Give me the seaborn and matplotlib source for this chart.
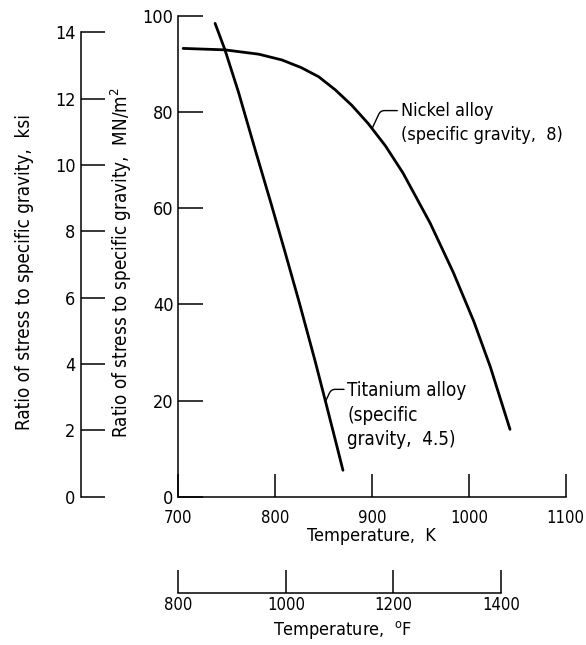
import matplotlib
matplotlib.use("Agg")
import matplotlib.pyplot as plt
from matplotlib import font_manager
import seaborn as sns
import pandas as pd

# ---- data ----
nickel_temp_K = [705, 748, 783, 807, 827, 845, 862, 879, 896, 914, 932, 960, 984, 1005, 1022, 1042.5]
nickel_ratio = [93.2, 92.9, 92.0, 90.8, 89.2, 87.3, 84.6, 81.4, 77.6, 72.9, 67.3, 56.9, 46.6, 36.5, 27.1, 14.0]

titanium_temp_K = [738, 748, 762, 779, 796, 810, 825, 841, 852, 862, 870]
titanium_ratio = [98.4, 93.0, 84.2, 72.4, 60.8, 51.0, 40.3, 28.4, 19.8, 11.9, 5.5]

k_ticks = [700, 800, 900, 1000, 1100]
mn_ticks = [0, 20, 40, 60, 80, 100]
ksi_ticks = [0, 2, 4, 6, 8, 10, 12, 14]
f_ticks = [800, 1000, 1200, 1400]

MN_PER_KSI = 6.894757


def k_to_f(k):
    return (k - 273.15) * 9.0 / 5.0 + 32.0


sns.set_theme(style="ticks")
names = {f.name for f in font_manager.fontManager.ttflist}
if "Liberation Sans Narrow" in names:
    plt.rcParams["font.family"] = ["Liberation Sans Narrow", "DejaVu Sans"]
    stretch = "normal"
else:
    plt.rcParams["font.family"] = ["DejaVu Sans"]
    stretch = "condensed"
plt.rcParams["font.stretch"] = stretch
for key in ["text.color", "axes.labelcolor", "axes.edgecolor", "xtick.color", "ytick.color"]:
    plt.rcParams[key] = "black"
plt.rcParams["axes.linewidth"] = 1.1
plt.rcParams["mathtext.fontset"] = "custom"
plt.rcParams["mathtext.rm"] = plt.rcParams["font.family"][0]

fig = plt.figure(figsize=(5.86, 6.45), dpi=100)
fig.patch.set_facecolor("white")
ax = fig.add_axes([178.3 / 586, (645 - 496.7) / 645, 387.4 / 586, 481.0 / 645])
ax.set_facecolor("white")

df_ni = pd.DataFrame({"T": nickel_temp_K, "R": nickel_ratio})
df_ti = pd.DataFrame({"T": titanium_temp_K, "R": titanium_ratio})
sns.lineplot(data=df_ni, x="T", y="R", ax=ax, color="black", lw=2.0, estimator=None, sort=False)
sns.lineplot(data=df_ti, x="T", y="R", ax=ax, color="black", lw=2.0, estimator=None, sort=False)

ax.set_xlim(700, 1100)
ax.set_ylim(0, 100)
ax.set_xticks(k_ticks)
ax.set_yticks(mn_ticks)
ax.set_xticklabels([str(t) for t in k_ticks])
ax.set_yticklabels([str(t) for t in mn_ticks])
for s in ["top", "right"]:
    ax.spines[s].set_visible(False)
ax.tick_params(axis="y", direction="in", length=18, width=1.1, pad=3.5, labelsize=13, colors="black")
ax.tick_params(axis="x", direction="in", length=16.5, width=1.1, pad=9, labelsize=12, colors="black")

ax.set_xlabel("Temperature,  K", fontsize=13)
ax.xaxis.set_label_coords(0.499, -0.062)
ax.xaxis.label.set_verticalalignment("top")
ax.set_ylabel("Ratio of stress to specific gravity,  MN/m$^2$", fontsize=13.5)
ax.yaxis.set_label_coords(-0.114, 0.487)

# ---- secondary ksi axis ----
ax_ksi = ax.twinx()
ax_ksi.set_ylim(0, 100 / MN_PER_KSI)
ax_ksi.yaxis.tick_left()
ax_ksi.yaxis.set_label_position("left")
for s in ["top", "right", "bottom"]:
    ax_ksi.spines[s].set_visible(False)
ax_ksi.spines["left"].set_visible(True)
ax_ksi.spines["left"].set_position(("outward", 70))
ax_ksi.spines["left"].set_bounds(0, 14)
ax_ksi.set_yticks(ksi_ticks)
ax_ksi.set_yticklabels([str(t) for t in ksi_ticks])
ax_ksi.tick_params(axis="y", direction="in", length=17, width=1.1, pad=4, labelsize=13, colors="black")
ax_ksi.set_ylabel("Ratio of stress to specific gravity,  ksi", fontsize=13.5)
ax_ksi.yaxis.set_label_coords(-0.3725, 0.467)

# ---- secondary Fahrenheit axis ----
ax_f = ax.twiny()
ax_f.set_xlim(k_to_f(700), k_to_f(1100))
ax_f.xaxis.tick_bottom()
ax_f.xaxis.set_label_position("bottom")
for s in ["top", "right", "left"]:
    ax_f.spines[s].set_visible(False)
ax_f.spines["bottom"].set_visible(True)
ax_f.spines["bottom"].set_position(("outward", 69.5))
ax_f.spines["bottom"].set_bounds(800, 1400)
ax_f.set_xticks(f_ticks)
ax_f.set_xticklabels([str(t) for t in f_ticks])
ax_f.tick_params(axis="x", direction="in", length=16.5, width=1.1, pad=2, labelsize=12, colors="black")
ax_f.set_xlabel("Temperature,  $^{\\mathrm{o}}$F", fontsize=13)
ax_f.xaxis.set_label_coords(0.425, -0.255)
ax_f.xaxis.label.set_verticalalignment("top")

# ---- annotations ----
arrow = dict(arrowstyle="-", lw=1.0, color="black", shrinkA=0, shrinkB=0,
             connectionstyle="angle,angleA=0,angleB=65,rad=4")
ax.annotate("Nickel alloy\n(specific gravity,  8)", xy=(900, 76.5), xytext=(929.5, 82.0),
            textcoords="data", ha="left", va="top", fontsize=13, linespacing=1.4,
            arrowprops=dict(arrow, relpos=(0, 0.8)))
ax.annotate("Titanium alloy\n(specific\ngravity,  4.5)", xy=(852, 19.8), xytext=(874.5, 24.0),
            textcoords="data", ha="left", va="top", fontsize=13.5, linespacing=1.35,
            arrowprops=dict(arrow, relpos=(0, 0.88)))

fig.savefig("out.png", dpi=100, facecolor="white")
